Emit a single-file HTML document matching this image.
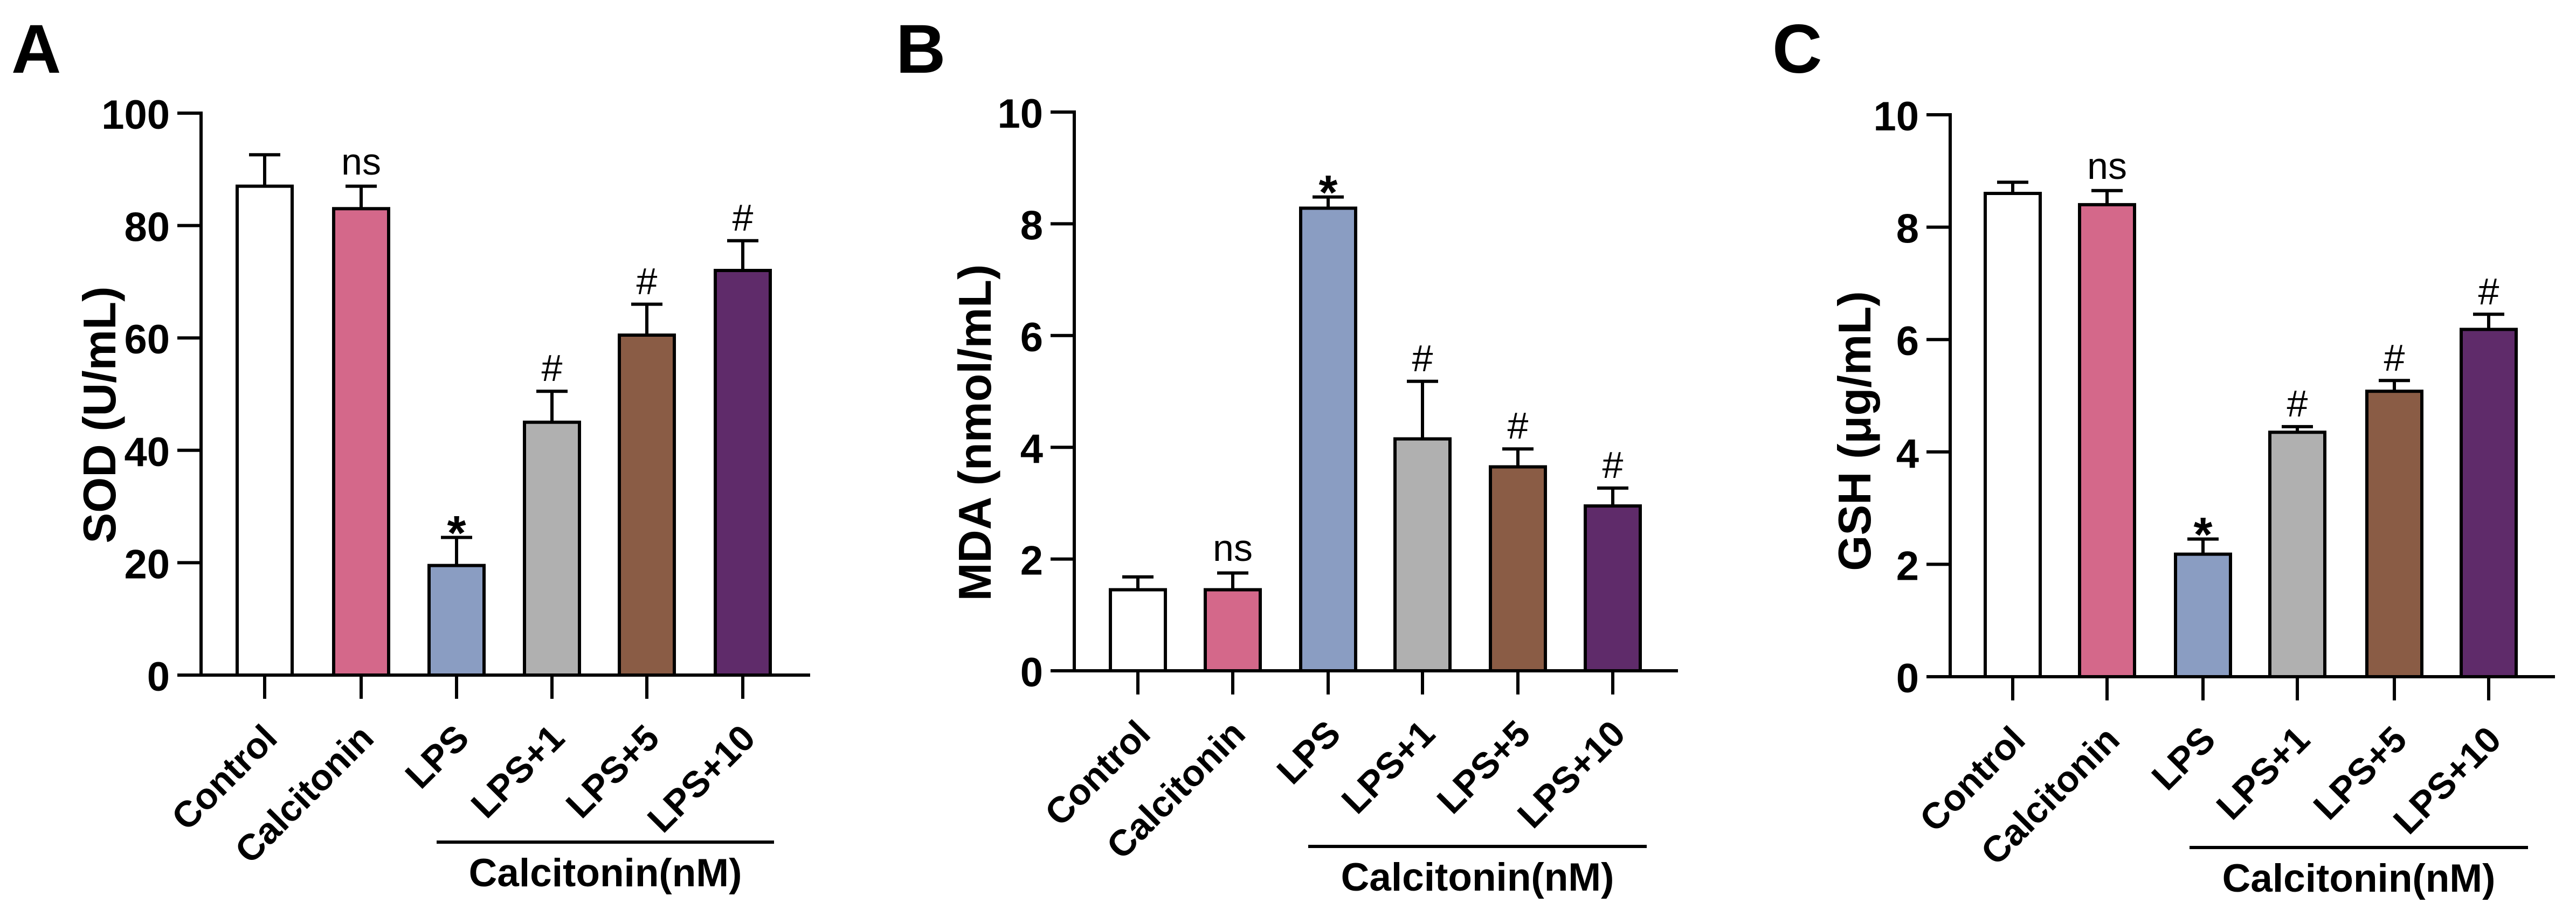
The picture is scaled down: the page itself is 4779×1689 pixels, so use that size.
<!DOCTYPE html>
<html><head><meta charset="utf-8"><style>
html,body{margin:0;padding:0;background:#fff;}
svg{display:block;}
text{font-family:"Liberation Sans",Arial,sans-serif;fill:#000;}
.b{font-weight:bold;}
.tk{font-size:76px;font-weight:bold;text-anchor:end;}
.xl{font-size:68px;font-weight:bold;text-anchor:end;}
.yl{font-size:85px;font-weight:bold;text-anchor:middle;}
.an{font-size:70px;text-anchor:middle;}
.st{font-size:90px;font-weight:bold;text-anchor:middle;}
.gl{font-size:73px;font-weight:bold;text-anchor:middle;}
.pl{font-size:128px;font-weight:bold;}
line,rect{stroke:#000;stroke-width:6;}
</style></head><body>
<svg width="4779" height="1689" viewBox="0 0 4779 1689" xmlns="http://www.w3.org/2000/svg">
<rect x="0" y="0" width="4779" height="1689" fill="#fff" style="stroke:none"/>

<!-- Panel A -->
<text class="pl" x="21" y="135">A</text>
<g>
<rect x="440" y="345.6" width="102" height="907.4" fill="#fff"/>
<rect x="619" y="387.3" width="102" height="865.7" fill="#d4688a"/>
<rect x="796" y="1049.6" width="102" height="203.4" fill="#8a9dc2"/>
<rect x="973" y="783.7" width="102" height="469.3" fill="#b0b0b0"/>
<rect x="1149" y="622" width="102" height="631" fill="#8a5c45"/>
<rect x="1327" y="502" width="102" height="751" fill="#5f2b6a"/>
<line x1="491" y1="345.6" x2="491" y2="287.2"/><line x1="462" y1="287.2" x2="520" y2="287.2"/>
<line x1="670" y1="387.3" x2="670" y2="345.6"/><line x1="641" y1="345.6" x2="699" y2="345.6"/>
<line x1="847" y1="1049.6" x2="847" y2="997.5"/><line x1="818" y1="997.5" x2="876" y2="997.5"/>
<line x1="1024" y1="783.7" x2="1024" y2="726.3"/><line x1="995" y1="726.3" x2="1053" y2="726.3"/>
<line x1="1200" y1="622" x2="1200" y2="564.6"/><line x1="1171" y1="564.6" x2="1229" y2="564.6"/>
<line x1="1378" y1="502" x2="1378" y2="446.8"/><line x1="1349" y1="446.8" x2="1407" y2="446.8"/>
<line x1="373" y1="207" x2="373" y2="1256"/>
<line x1="370" y1="1253" x2="1503" y2="1253"/>
<line x1="329" y1="210" x2="373" y2="210"/><line x1="329" y1="418.6" x2="373" y2="418.6"/><line x1="329" y1="627.2" x2="373" y2="627.2"/><line x1="329" y1="835.8" x2="373" y2="835.8"/><line x1="329" y1="1044.4" x2="373" y2="1044.4"/><line x1="329" y1="1253" x2="373" y2="1253"/>
<text class="tk" x="315" y="239">100</text><text class="tk" x="315" y="447.6">80</text><text class="tk" x="315" y="656.2">60</text><text class="tk" x="315" y="864.8">40</text><text class="tk" x="315" y="1073.4">20</text><text class="tk" x="315" y="1282">0</text>
<line x1="491" y1="1253" x2="491" y2="1297"/><line x1="670" y1="1253" x2="670" y2="1297"/><line x1="847" y1="1253" x2="847" y2="1297"/><line x1="1024" y1="1253" x2="1024" y2="1297"/><line x1="1200" y1="1253" x2="1200" y2="1297"/><line x1="1378" y1="1253" x2="1378" y2="1297"/>
<text class="xl" transform="translate(518,1374) rotate(-45)">Control</text>
<text class="xl" transform="translate(697,1374) rotate(-45)">Calcitonin</text>
<text class="xl" transform="translate(874,1374) rotate(-45)">LPS</text>
<text class="xl" transform="translate(1051,1374) rotate(-45)">LPS+1</text>
<text class="xl" transform="translate(1227,1374) rotate(-45)">LPS+5</text>
<text class="xl" transform="translate(1405,1374) rotate(-45)">LPS+10</text>
<text class="an" x="670" y="324">ns</text>
<text class="st" x="847" y="1020">*</text>
<text class="an" x="1024" y="707">#</text>
<text class="an" x="1200" y="546">#</text>
<text class="an" x="1378" y="428">#</text>
<line x1="810" y1="1563" x2="1436" y2="1563"/>
<text class="gl" x="1123" y="1645">Calcitonin(nM)</text>
<text class="yl" transform="translate(214,770) rotate(-90)">SOD (U/mL)</text>
</g>

<!-- Panel B -->
<text class="pl" x="1662" y="135">B</text>
<g>
<rect x="2060" y="1094.6" width="102" height="150.4" fill="#fff"/>
<rect x="2236" y="1094.6" width="102" height="150.4" fill="#d4688a"/>
<rect x="2413" y="386.4" width="102" height="858.6" fill="#8a9dc2"/>
<rect x="2588" y="814.6" width="102" height="430.4" fill="#b0b0b0"/>
<rect x="2765" y="866.5" width="102" height="378.5" fill="#8a5c45"/>
<rect x="2941" y="939.1" width="102" height="305.9" fill="#5f2b6a"/>
<line x1="2111" y1="1094.6" x2="2111" y2="1070.8"/><line x1="2082" y1="1070.8" x2="2140" y2="1070.8"/>
<line x1="2287" y1="1094.6" x2="2287" y2="1063.5"/><line x1="2258" y1="1063.5" x2="2316" y2="1063.5"/>
<line x1="2464" y1="386.4" x2="2464" y2="365.6"/><line x1="2435" y1="365.6" x2="2493" y2="365.6"/>
<line x1="2639" y1="814.6" x2="2639" y2="707.8"/><line x1="2610" y1="707.8" x2="2668" y2="707.8"/>
<line x1="2816" y1="866.5" x2="2816" y2="833.3"/><line x1="2787" y1="833.3" x2="2845" y2="833.3"/>
<line x1="2992" y1="939.1" x2="2992" y2="905.9"/><line x1="2963" y1="905.9" x2="3021" y2="905.9"/>
<line x1="1993" y1="205" x2="1993" y2="1248"/>
<line x1="1990" y1="1245" x2="3113" y2="1245"/>
<line x1="1949" y1="208" x2="1993" y2="208"/><line x1="1949" y1="415.4" x2="1993" y2="415.4"/><line x1="1949" y1="622.8" x2="1993" y2="622.8"/><line x1="1949" y1="830.2" x2="1993" y2="830.2"/><line x1="1949" y1="1037.6" x2="1993" y2="1037.6"/><line x1="1949" y1="1245" x2="1993" y2="1245"/>
<text class="tk" x="1935" y="237">10</text><text class="tk" x="1935" y="444.4">8</text><text class="tk" x="1935" y="651.8">6</text><text class="tk" x="1935" y="859.2">4</text><text class="tk" x="1935" y="1066.6">2</text><text class="tk" x="1935" y="1274">0</text>
<line x1="2111" y1="1245" x2="2111" y2="1289"/><line x1="2287" y1="1245" x2="2287" y2="1289"/><line x1="2464" y1="1245" x2="2464" y2="1289"/><line x1="2639" y1="1245" x2="2639" y2="1289"/><line x1="2816" y1="1245" x2="2816" y2="1289"/><line x1="2992" y1="1245" x2="2992" y2="1289"/>
<text class="xl" transform="translate(2138,1366) rotate(-45)">Control</text>
<text class="xl" transform="translate(2314,1366) rotate(-45)">Calcitonin</text>
<text class="xl" transform="translate(2491,1366) rotate(-45)">LPS</text>
<text class="xl" transform="translate(2666,1366) rotate(-45)">LPS+1</text>
<text class="xl" transform="translate(2843,1366) rotate(-45)">LPS+5</text>
<text class="xl" transform="translate(3019,1366) rotate(-45)">LPS+10</text>
<text class="an" x="2287" y="1041">ns</text>
<text class="st" x="2464" y="388">*</text>
<text class="an" x="2639" y="689">#</text>
<text class="an" x="2816" y="814">#</text>
<text class="an" x="2992" y="887">#</text>
<line x1="2427" y1="1571" x2="3055" y2="1571"/>
<text class="gl" x="2741" y="1653">Calcitonin(nM)</text>
<text class="yl" transform="translate(1838,803) rotate(-90)">MDA (nmol/mL)</text>
</g>

<!-- Panel C -->
<text class="pl" x="3288" y="135">C</text>
<g>
<rect x="3683" y="359" width="102" height="897" fill="#fff"/>
<rect x="3858" y="379.9" width="102" height="876.1" fill="#d4688a"/>
<rect x="4036" y="1028.6" width="102" height="227.4" fill="#8a9dc2"/>
<rect x="4211" y="802.3" width="102" height="453.7" fill="#b0b0b0"/>
<rect x="4391" y="726.2" width="102" height="529.8" fill="#8a5c45"/>
<rect x="4566" y="611.4" width="102" height="644.6" fill="#5f2b6a"/>
<line x1="3734" y1="359" x2="3734" y2="338.2"/><line x1="3705" y1="338.2" x2="3763" y2="338.2"/>
<line x1="3909" y1="379.9" x2="3909" y2="353.8"/><line x1="3880" y1="353.8" x2="3938" y2="353.8"/>
<line x1="4087" y1="1028.6" x2="4087" y2="1000.5"/><line x1="4058" y1="1000.5" x2="4116" y2="1000.5"/>
<line x1="4262" y1="802.3" x2="4262" y2="791.9"/><line x1="4233" y1="791.9" x2="4291" y2="791.9"/>
<line x1="4442" y1="726.2" x2="4442" y2="706.3"/><line x1="4413" y1="706.3" x2="4471" y2="706.3"/>
<line x1="4617" y1="611.4" x2="4617" y2="583.3"/><line x1="4588" y1="583.3" x2="4646" y2="583.3"/>
<line x1="3618" y1="210" x2="3618" y2="1259"/>
<line x1="3615" y1="1256" x2="4740" y2="1256"/>
<line x1="3574" y1="213" x2="3618" y2="213"/><line x1="3574" y1="421.6" x2="3618" y2="421.6"/><line x1="3574" y1="630.2" x2="3618" y2="630.2"/><line x1="3574" y1="838.8" x2="3618" y2="838.8"/><line x1="3574" y1="1047.4" x2="3618" y2="1047.4"/><line x1="3574" y1="1256" x2="3618" y2="1256"/>
<text class="tk" x="3560" y="242">10</text><text class="tk" x="3560" y="450.6">8</text><text class="tk" x="3560" y="659.2">6</text><text class="tk" x="3560" y="867.8">4</text><text class="tk" x="3560" y="1076.4">2</text><text class="tk" x="3560" y="1285">0</text>
<line x1="3734" y1="1256" x2="3734" y2="1300"/><line x1="3909" y1="1256" x2="3909" y2="1300"/><line x1="4087" y1="1256" x2="4087" y2="1300"/><line x1="4262" y1="1256" x2="4262" y2="1300"/><line x1="4442" y1="1256" x2="4442" y2="1300"/><line x1="4617" y1="1256" x2="4617" y2="1300"/>
<text class="xl" transform="translate(3761,1377) rotate(-45)">Control</text>
<text class="xl" transform="translate(3936,1377) rotate(-45)">Calcitonin</text>
<text class="xl" transform="translate(4114,1377) rotate(-45)">LPS</text>
<text class="xl" transform="translate(4289,1377) rotate(-45)">LPS+1</text>
<text class="xl" transform="translate(4469,1377) rotate(-45)">LPS+5</text>
<text class="xl" transform="translate(4644,1377) rotate(-45)">LPS+10</text>
<text class="an" x="3909" y="332">ns</text>
<text class="st" x="4087" y="1023">*</text>
<text class="an" x="4262" y="773">#</text>
<text class="an" x="4442" y="688">#</text>
<text class="an" x="4617" y="565">#</text>
<line x1="4062" y1="1573" x2="4690" y2="1573"/>
<text class="gl" x="4376" y="1655">Calcitonin(nM)</text>
<text class="yl" transform="translate(3470,800) rotate(-90)">GSH (μg/mL)</text>
</g>
</svg>
</body></html>
